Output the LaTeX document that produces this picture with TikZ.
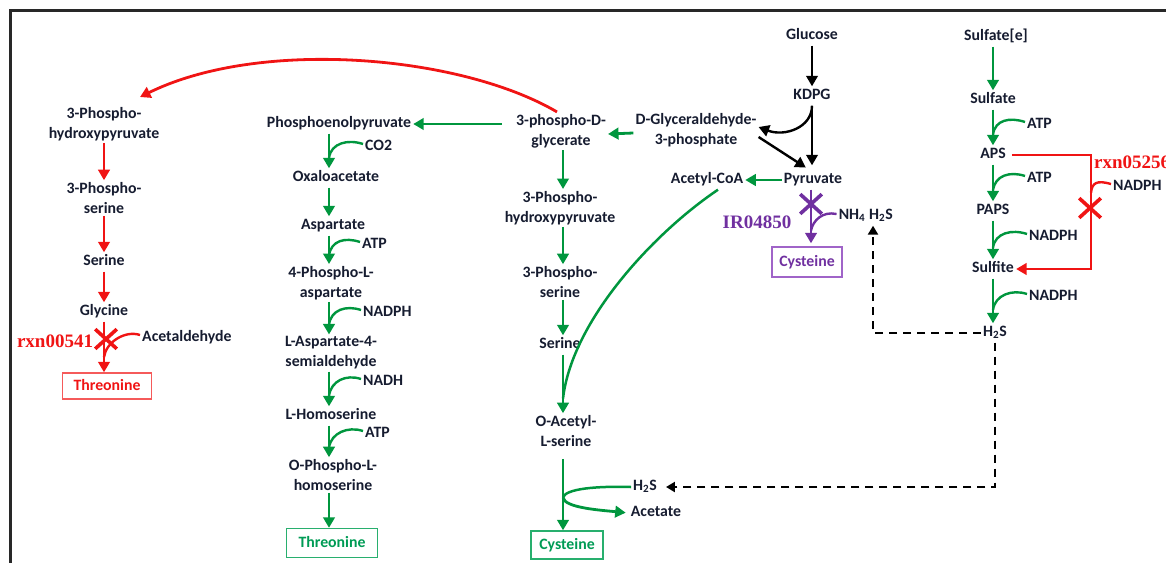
\documentclass[tikz,border=0pt]{standalone}
\usepackage{fontspec}
\setmainfont{Carlito}
\newfontfamily\serifrx{Liberation Serif}
\usetikzlibrary{arrows.meta,calc,shapes.misc}
\definecolor{grn}{RGB}{0,150,62}
\definecolor{rd}{RGB}{240,20,20}
\definecolor{prp}{RGB}{112,48,160}
\definecolor{txt}{RGB}{22,28,48}
\definecolor{gbox}{RGB}{40,175,110}
\definecolor{gtext}{RGB}{0,155,85}
\definecolor{rbox}{RGB}{245,90,90}
\definecolor{pbox}{RGB}{160,100,200}
\definecolor{framec}{RGB}{40,40,40}
\newcommand\mfont{\fontsize{15.8}{20}\selectfont\bfseries}
\newcommand\rxfont{\serifrx\fontsize{19}{20}\selectfont\bfseries}
\newcommand\sidecurve[5][cofl]{\draw[#1] ([yshift=3pt]#2.west) .. controls +(-15,-5) and +(2,-15) .. ($(#3.south -| #5)!0.7!(#4.north -| #5)$);}
\tikzset{
  base/.style={text=txt, font=\mfont, inner sep=2pt, align=center},
  met/.style={base, text height=11pt, text depth=4pt},
  mett/.style={base},
  cof/.style={base, anchor=west, text height=11pt, text depth=4pt},
  rxn/.style={text=rd, font=\rxfont, inner sep=0pt},
  pxn/.style={text=prp, font=\rxfont, inner sep=0pt},
  boxc/.style={font=\mfont, line width=1.4pt, inner sep=0pt, text height=11pt, text depth=3pt},
  gbx/.style={boxc, draw=gbox, text=gtext},
  rbx/.style={boxc, draw=rbox, text=rd},
  pbx/.style={boxc, draw=pbox, text=prp},
  tip/.style={-{Triangle[length=10.5pt,width=11.5pt]}},
  garrow/.style={draw=grn, line width=2.8pt, tip},
  gline/.style={draw=grn, line width=2.5pt},
  cofl/.style={draw=grn, line width=2.4pt},
  rarrow/.style={draw=rd, line width=2.8pt, tip},
  rline/.style={draw=rd, line width=2.4pt},
  barrow/.style={draw=black, line width=2.4pt, tip},
  darrow/.style={draw=black, line width=2.5pt, dash pattern=on 8pt off 6pt, -{Triangle[length=9pt,width=10pt]}},
  parrow/.style={draw=prp, line width=2.8pt, tip},
  pline/.style={draw=prp, line width=2.4pt},
  xmark/.style={cross out, line width=3.6pt, minimum width=18pt, minimum height=16pt, inner sep=0pt},
}
\begin{document}
\begin{tikzpicture}[x=1pt,y=-1pt]
\useasboundingbox (0,0) rectangle (1166,562);
\draw[framec, line width=3pt] (10,600) -- (10,10) -- (1200,10);

% ---------- column 1 (red) ----------
\coordinate (c1) at (104,0);
\node[mett] (hp1) at (104,124) {3-Phospho-\\hydroxypyruvate};
\node[mett] (ps1) at (104,198) {3-Phospho-\\serine};
\node[met] (ser1) at (104,262) {Serine};
\node[met] (gly1) at (104,312) {Glycine};
\node[rbx, minimum width=89pt, minimum height=26pt] (thr1) at (107,386) {Threonine};
\node[cof] (acet) at (140,338) {Acetaldehyde};
\node[rxn] (rx1) at (55,341) {rxn00541};
\draw[rarrow] (hp1.south -| c1) -- (ps1.north -| c1);
\draw[rarrow] (ps1.south -| c1) -- (ser1.north -| c1);
\draw[rarrow] (ser1.south -| c1) -- (gly1.north -| c1);
\draw[rarrow] (gly1.south -| c1) -- (thr1.north -| c1);
\sidecurve[rline]{acet}{gly1}{thr1}{c1}
\node[xmark, draw=rd] (x1) at (106,339) {};

% ---------- column 2 ----------
\coordinate (c2) at (329,0);
\node[met] (pep) at (339,124) {Phosphoenolpyruvate};
\node[met] (oxa) at (336,178) {Oxaloacetate};
\node[met] (asp) at (333,226) {Aspartate};
\node[mett] (p4a) at (331,283) {4-Phospho-L-\\aspartate};
\node[mett] (asa) at (331,353) {L-Aspartate-4-\\semialdehyde};
\node[met] (hom) at (331,416) {L-Homoserine};
\node[mett] (ophs) at (333,475) {O-Phospho-L-\\homoserine};
\node[gbx, minimum width=91pt, minimum height=29pt] (thr2) at (332,543) {Threonine};
\node[cof] (co2) at (363,147) {CO2};
\node[cof] (atp2a) at (360,245) {ATP};
\node[cof] (nadph2) at (361,313) {NADPH};
\node[cof] (nadh2) at (361,382) {NADH};
\node[cof] (atp2b) at (363,434) {ATP};
\draw[garrow] (pep.south -| c2) -- (oxa.north -| c2);
\draw[garrow] (oxa.south -| c2) -- (asp.north -| c2);
\draw[garrow] (asp.south -| c2) -- (p4a.north -| c2);
\draw[garrow] (p4a.south -| c2) -- (asa.north -| c2);
\draw[garrow] (asa.south -| c2) -- (hom.north -| c2);
\draw[garrow] (hom.south -| c2) -- (ophs.north -| c2);
\draw[garrow] (ophs.south -| c2) -- (thr2.north -| c2);
\sidecurve{co2}{pep}{oxa}{c2}
\sidecurve{atp2a}{asp}{p4a}{c2}
\sidecurve{nadph2}{p4a}{asa}{c2}
\sidecurve{nadh2}{asa}{hom}{c2}
\sidecurve{atp2b}{hom}{ophs}{c2}

% ---------- column 3 ----------
\coordinate (c3) at (563,0);
\node[mett] (pdg) at (561,131) {3-phospho-D-\\glycerate};
\node[mett] (hp3) at (560,208) {3-Phospho-\\hydroxypyruvate};
\node[mett] (ps3) at (560,282) {3-Phospho-\\serine};
\node[met] (ser3) at (560,345) {Serine};
\node[mett] (oas) at (566,431) {O-Acetyl-\\L-serine};
\node[gbx, minimum width=72pt, minimum height=28pt] (cys3) at (567,545) {Cysteine};
\node[met] (h2sbot) at (645,487) {H\textsubscript{2}S};
\node[met] (acetate) at (656,513) {Acetate};
\draw[garrow] (pdg.south -| c3) -- (hp3.north -| c3);
\draw[garrow] (hp3.south -| c3) -- (ps3.north -| c3);
\draw[garrow] (ps3.south -| c3) -- (ser3.north -| c3);
\draw[garrow] (ser3.south -| c3) -- (oas.north -| c3);
\draw[garrow, shorten <=10pt] (oas.south -| c3) -- (cys3.north -| c3);
\draw[garrow] ($(pdg.west |- pep.east)+(-12,0)$) -- (pep.east);
\draw[rarrow] ([xshift=-4pt]pdg.north) .. controls (460,55) and (260,38) .. ([xshift=36pt,yshift=8pt]hp1.north);
\coordinate (m3) at ($(ser3.south -| c3)!0.75!(oas.north -| c3)$);
\coordinate (m2) at ($(oas.south -| c3)!0.6!(cys3.north -| c3)$);
\draw[gline] (h2sbot.west) .. controls +(-35,-1) and +(2,-9) .. (m2);
\draw[garrow, shorten >=3pt] (m2) .. controls +(2,10) and +(-30,-3) .. (acetate.west);

% ---------- column 4 ----------
\coordinate (c4) at (811,0);
\node[met] (glc) at (812,36) {Glucose};
\node[met] (kdpg) at (812,96) {KDPG};
\node[mett] (gap) at (696,130) {D-Glyceraldehyde-\\3-phosphate};
\node[met] (pyr) at (813,180) {Pyruvate};
\node[met] (acoa) at (707,180) {Acetyl-CoA};
\node[pxn] (ir) at (757,222) {IR04850};
\node[met] (nh4) at (852,216) {NH\textsubscript{4}};
\node[met] (h2su) at (881,216) {H\textsubscript{2}S};
\node[pbx, minimum width=70pt, minimum height=30pt] (cys4) at (807,262) {Cysteine};
\draw[barrow] (glc.south) -- (kdpg.north);
\draw[barrow, shorten >=5pt] (kdpg.south) -- (kdpg.south |- pyr.north);
\draw[barrow] (kdpg.south) .. controls +(0,22) and +(26,10) .. ([yshift=3pt]gap.east);
\draw[barrow, shorten >=5pt] ([yshift=-7pt]gap.east) -- ([xshift=-3pt]pyr.north);
\draw[garrow] (pyr.west) -- (acoa.east);
\draw[garrow] ([yshift=-3pt]gap.west) -- ([yshift=-3pt]pdg.east);
\draw[gline] ([xshift=11pt]acoa.south) .. controls (655,232) and (572,320) .. (m3);
\draw[parrow, shorten >=3pt] (pyr.south -| c4) -- (cys4.north -| c4);
\coordinate (m4) at ($(pyr.south -| c4)!0.72!(cys4.north -| c4)$);
\draw[pline] ([yshift=2pt]nh4.west) .. controls +(-14,-3) and +(2,-10) .. (m4);
\node[xmark, draw=prp] (x4) at (811,204) {};

% ---------- column 5 ----------
\coordinate (c5) at (993,0);
\node[met] (sulfe) at (996,37) {Sulfate[e]};
\node[met] (sulf) at (993,100) {Sulfate};
\node[met] (aps) at (993,155) {APS};
\node[met] (paps) at (993,211) {PAPS};
\node[met] (sulfite) at (993,269) {Sulfite};
\node[met] (h2sb) at (995,333) {H\textsubscript{2}S};
\node[cof] (atp5a) at (1025,125) {ATP};
\node[cof] (atp5b) at (1025,179) {ATP};
\node[cof] (nadph5a) at (1027,237) {NADPH};
\node[cof] (nadph5b) at (1027,297) {NADPH};
\node[cof] (nadphr) at (1111,187) {NADPH};
\node[rxn, anchor=west] (rx2) at (1094,162) {rxn05256};
\draw[garrow] (sulfe.south -| c5) -- (sulf.north -| c5);
\draw[garrow] (sulf.south -| c5) -- (aps.north -| c5);
\draw[garrow] (aps.south -| c5) -- (paps.north -| c5);
\draw[garrow] (paps.south -| c5) -- (sulfite.north -| c5);
\draw[garrow] (sulfite.south -| c5) -- (h2sb.north -| c5);
\sidecurve{atp5a}{sulf}{aps}{c5}
\sidecurve{atp5b}{aps}{paps}{c5}
\sidecurve{nadph5a}{paps}{sulfite}{c5}
\sidecurve{nadph5b}{sulfite}{h2sb}{c5}
\coordinate (rc) at (1091,155);
\draw[rarrow] ([xshift=4pt]aps.east) -- (rc) |- (sulfite.east);
\draw[rline] ([yshift=3pt]nadphr.west) .. controls +(-14,-4) and +(1,-10) .. ($(rc)!0.33!(rc |- sulfite.east)$);
\node[xmark, draw=rd] (x5) at (1090,208) {};

% ---------- dashed H2S transfers ----------
\draw[darrow] (h2sb.west) -| ([xshift=-8pt]h2su.south);
\draw[darrow, shorten >=7pt] (h2sb.south) |- (h2sbot.east);
\end{tikzpicture}
\end{document}
